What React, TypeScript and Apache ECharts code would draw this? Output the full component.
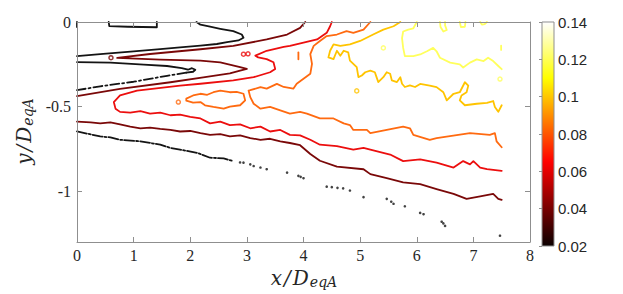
import React, { useEffect, useRef } from 'react';
import * as echarts from 'echarts';

// ---- axes / colour scale ----
const X_RANGE = [0, 8];
const Y_RANGE = [-1.3, 0];
const Y_TICKS = [0, -0.5, -1];
const CBAR_RANGE = [0.02, 0.14];

// ---- contour level 0.02 (black) ----
const BLACK_TOP = [[0.56, 0], [0.57, -0.024], [0.9, -0.028], [1.41, -0.031], [1.41, 0]];
const BLACK_EDGE = [[0, 0], [0, -0.03]];
const BLACK_UPPER = [[0, -0.202], [0.41, -0.19], [1.0, -0.174], [1.47, -0.16], [1.82, -0.15], [2.18, -0.14], [2.47, -0.13], [2.65, -0.119], [2.85, -0.109], [2.94, -0.093], [2.91, -0.074], [2.76, -0.054], [2.53, -0.04], [2.35, -0.028], [2.18, -0.016], [2.11, 0]];
const BLACK_INNER = [[0, -0.237], [0.59, -0.24], [1.18, -0.252], [1.59, -0.26], [1.85, -0.272], [1.96, -0.282], [2.03, -0.273], [2.09, -0.282], [2.05, -0.294], [1.93, -0.299]];
const BLACK_INNER_DASH = [[1.93, -0.299], [1.59, -0.318], [1.0, -0.353], [0.41, -0.38], [0, -0.403]];
const BLACK_BOTTOM = [[0, -0.647], [0.41, -0.676], [0.59, -0.682], [0.76, -0.696], [1.12, -0.705], [1.47, -0.725], [1.65, -0.744], [1.82, -0.754], [2.12, -0.773], [2.35, -0.802], [2.59, -0.806], [2.76, -0.822]];
const BLACK_DOTS = [[2.88, -0.83], [2.94, -0.831], [3.06, -0.841], [3.12, -0.851], [3.24, -0.86], [3.35, -0.87], [3.71, -0.89], [3.91, -0.909], [3.95, -0.915], [4.0, -0.923], [4.41, -0.973], [4.5, -0.976], [4.6, -0.98], [4.7, -0.983], [4.82, -0.996], [5.06, -1.035], [5.47, -1.045], [5.55, -1.062], [5.59, -1.074], [5.79, -1.089], [6.06, -1.128], [6.12, -1.136], [6.44, -1.18], [6.47, -1.19], [6.5, -1.205], [7.47, -1.263]];

// ---- contour level 0.04 (dark red) ----
const DARKRED_A = [[0, -0.438], [0.76, -0.395], [1.65, -0.356], [2.23, -0.327], [2.7, -0.304], [2.88, -0.287], [3.0, -0.277], [2.88, -0.267], [2.53, -0.238], [2.18, -0.228], [1.47, -0.222], [0.71, -0.212], [1.29, -0.189], [2.18, -0.161], [2.76, -0.141], [3.35, -0.103], [3.71, -0.074], [3.94, -0.035], [4.03, 0]];
const DARKRED_B = [[0, -0.589], [0.24, -0.593], [0.41, -0.599], [0.59, -0.593], [0.76, -0.605], [0.94, -0.618], [1.12, -0.628], [1.29, -0.624], [1.47, -0.632], [1.65, -0.638], [1.82, -0.647], [2.0, -0.644], [2.18, -0.657], [2.35, -0.667], [2.53, -0.663], [2.7, -0.676], [2.88, -0.67], [3.06, -0.686], [3.24, -0.696], [3.41, -0.69], [3.59, -0.705], [3.76, -0.715], [3.94, -0.728], [4.12, -0.78], [4.29, -0.82], [4.59, -0.855], [5.06, -0.87], [5.18, -0.899], [5.47, -0.923], [5.76, -0.948], [6.06, -0.958], [6.35, -0.987], [6.65, -1.016], [6.88, -1.045], [7.12, -1.031], [7.35, -1.016], [7.44, -1.045], [7.5, -1.051]];
const DARKRED_MARKS = [[0.6, -0.211]];

// ---- contour level 0.06 (red) ----
const RED_A = [[4.5, 0], [4.47, -0.025], [4.41, -0.064], [4.24, -0.103], [4.0, -0.122], [3.76, -0.141], [3.65, -0.147], [3.35, -0.17], [3.15, -0.199], [3.2, -0.209], [3.35, -0.219], [3.47, -0.238], [3.5, -0.277], [3.41, -0.297], [3.12, -0.326], [2.76, -0.345], [2.18, -0.365], [1.82, -0.376], [1.06, -0.405], [0.76, -0.434], [0.65, -0.473], [0.68, -0.512], [0.76, -0.531], [0.94, -0.535], [1.12, -0.527], [1.29, -0.541], [1.47, -0.535], [1.65, -0.551], [1.82, -0.547], [2.0, -0.56], [2.18, -0.57], [2.35, -0.599], [2.53, -0.589], [2.7, -0.609], [2.88, -0.605], [3.06, -0.628], [3.24, -0.618], [3.41, -0.647], [3.59, -0.638], [3.76, -0.667], [3.94, -0.67], [4.12, -0.696], [4.29, -0.725], [4.59, -0.734], [4.88, -0.754], [5.06, -0.744], [5.18, -0.754], [5.53, -0.783], [5.76, -0.822], [6.06, -0.812], [6.35, -0.831], [6.65, -0.86], [6.82, -0.822], [6.94, -0.841], [7.0, -0.822], [7.12, -0.86], [7.24, -0.87], [7.5, -0.88]];
const RED_MARKS = [[2.94, -0.19], [3.02, -0.188]];

// ---- contour level 0.08 (orange) ----
const ORANGE_A = [[5.18, 0], [5.06, -0.045], [4.88, -0.064], [4.76, -0.054], [4.59, -0.074], [4.41, -0.083], [4.29, -0.112], [4.18, -0.141], [4.12, -0.19], [4.15, -0.248], [4.12, -0.306], [4.0, -0.335], [3.88, -0.365], [3.82, -0.394], [3.65, -0.384], [3.53, -0.366], [3.35, -0.394], [3.24, -0.385], [3.06, -0.403], [3.03, -0.405], [3.06, -0.444], [3.12, -0.483], [3.24, -0.512], [3.41, -0.502], [3.59, -0.522], [3.76, -0.541], [3.94, -0.531], [4.06, -0.541], [4.29, -0.57], [4.53, -0.57], [4.71, -0.599], [4.82, -0.609], [4.88, -0.638], [5.12, -0.638], [5.18, -0.657], [5.47, -0.638], [5.76, -0.618], [5.88, -0.628], [5.94, -0.667], [6.23, -0.696], [6.35, -0.686], [6.94, -0.657], [7.29, -0.667], [7.38, -0.657], [7.41, -0.705], [7.5, -0.74]];
const ORANGE_LOOP = [[1.93, -0.453], [2.05, -0.434], [2.18, -0.424], [2.3, -0.43], [2.41, -0.415], [2.53, -0.405], [2.7, -0.415], [2.82, -0.413], [2.94, -0.424], [2.97, -0.463], [2.88, -0.492], [2.7, -0.5], [2.59, -0.512], [2.41, -0.502], [2.26, -0.492], [2.18, -0.473], [2.05, -0.477], [1.93, -0.465], [1.93, -0.453]];
const ORANGE_BAR = [[3.91, -0.18], [3.91, -0.22]];
const ORANGE_MARKS = [[1.79, -0.473]];

// ---- contour level 0.10 (orange-yellow) ----
const GOLD_A = [[5.71, 0], [5.59, -0.025], [5.41, -0.045], [5.23, -0.074], [5.0, -0.112], [4.82, -0.132], [4.65, -0.141], [4.53, -0.132], [4.47, -0.17], [4.44, -0.209], [4.53, -0.219], [4.59, -0.17], [4.65, -0.199], [4.71, -0.17], [4.79, -0.18], [4.82, -0.228], [4.94, -0.267], [4.97, -0.326], [5.03, -0.316], [5.09, -0.297], [5.18, -0.287], [5.26, -0.297], [5.29, -0.326], [5.32, -0.355], [5.41, -0.326], [5.47, -0.297], [5.53, -0.306], [5.56, -0.345], [5.65, -0.355], [5.71, -0.326], [5.74, -0.365], [5.79, -0.384], [5.88, -0.374], [5.97, -0.384], [6.06, -0.366], [6.23, -0.376], [6.35, -0.385], [6.47, -0.415], [6.53, -0.463], [6.65, -0.424], [6.76, -0.415], [6.85, -0.356], [6.91, -0.376], [6.88, -0.415], [6.79, -0.434], [6.76, -0.463], [6.85, -0.492], [7.06, -0.483], [7.24, -0.478], [7.35, -0.467], [7.38, -0.502], [7.44, -0.531], [7.5, -0.492]];
const GOLD_MARKS = [[4.94, -0.407]];

// ---- contour level 0.12 (yellow) ----
const YELLOW_A = [[6.0, 0], [5.94, -0.037], [5.85, -0.045], [5.76, -0.056], [5.74, -0.095], [5.76, -0.153], [5.79, -0.202], [5.94, -0.202], [6.06, -0.192], [6.18, -0.173], [6.29, -0.153], [6.35, -0.173], [6.41, -0.211], [6.59, -0.24], [6.76, -0.25], [6.82, -0.269], [6.94, -0.24], [7.06, -0.221], [7.18, -0.231], [7.26, -0.211], [7.35, -0.231], [7.44, -0.26], [7.5, -0.279]];
const YELLOW_L1 = [[6.41, 0], [6.42, -0.03], [6.47, -0.056], [6.53, -0.047], [6.5, -0.02], [6.5, 0]];
const YELLOW_L2 = [[6.76, 0], [6.78, -0.03], [6.85, -0.028], [6.86, 0]];
const YELLOW_L3 = [[7.12, 0], [7.15, -0.015], [7.2, -0.012], [7.24, 0]];
const YELLOW_EDGE = [[7.49, -0.14], [7.49, -0.165]];
const YELLOW_MARKS = [[5.41, -0.153], [7.47, -0.337]];

// ---- styles ----
const C02 = '#141414';
const C04 = '#7a0808';
const C06 = '#ec0e0e';
const C08 = '#ff6a10';
const C10 = '#ffc400';
const C12 = '#ffff5c';
const FRAME = '#8f8f8f';
const TEXT = '#262626';
const LW = 1.8;
const SERIF = "'Liberation Serif', 'Times New Roman', serif";

const HOT_STOPS = [
  { offset: 0, color: '#0b0000' },
  { offset: 0.375, color: '#ff0000' },
  { offset: 0.75, color: '#ffff00' },
  { offset: 1, color: '#ffffff' },
];

function lineSeries(data: number[][], color: string, dash?: number[]) {
  return {
    type: 'line',
    xAxisIndex: 0,
    yAxisIndex: 0,
    data,
    showSymbol: false,
    symbol: 'none',
    silent: true,
    z: 2,
    lineStyle: { color, width: LW, type: dash ? dash : 'solid', cap: 'round', join: 'round' },
  };
}

function markSeries(data: number[][], color: string) {
  return {
    type: 'scatter',
    xAxisIndex: 0,
    yAxisIndex: 0,
    data,
    symbol: 'circle',
    symbolSize: 4,
    silent: true,
    z: 2,
    itemStyle: { color: 'rgba(255,255,255,0)', borderColor: color, borderWidth: 1.5 },
  };
}

const nameRich = {
  m: { fontFamily: 'DejaVu Serif', fontStyle: 'italic', fontSize: 20, color: TEXT, lineHeight: 22, padding: [0, 1, 0, 1] },
  s: { fontFamily: 'DejaVu Serif', fontStyle: 'italic', fontSize: 14, color: TEXT, lineHeight: 12, verticalAlign: 'bottom' },
};

export default function App() {
  const ref = useRef<HTMLDivElement>(null);
  useEffect(() => {
    if (!ref.current) return;
    const chart = echarts.init(ref.current, null, { renderer: 'svg' });
    const option: any = {
      animation: false,
      backgroundColor: '#ffffff',
      grid: [
        { left: 77, top: 22, width: 453, height: 224 },
        { left: 542, top: 22, width: 12, height: 224 },
      ],
      xAxis: [
        {
          type: 'value', gridIndex: 0, min: X_RANGE[0], max: X_RANGE[1], interval: 1, position: 'bottom', z: 5,
          axisLine: { show: true, onZero: false, lineStyle: { color: FRAME, width: 1 } },
          axisTick: { show: true, inside: true, length: 5, lineStyle: { color: FRAME } },
          axisLabel: { fontFamily: SERIF, fontSize: 16, color: TEXT, margin: 5 },
          splitLine: { show: false },
          name: '{m|x}{m|/}{m|D}{s|eqA}', nameLocation: 'middle', nameGap: 25,
          nameTextStyle: { rich: nameRich },
        },
        {
          type: 'value', gridIndex: 0, min: X_RANGE[0], max: X_RANGE[1], interval: 1, position: 'top', z: 5,
          axisLine: { show: true, onZero: false, lineStyle: { color: FRAME, width: 1 } },
          axisTick: { show: true, inside: true, length: 5, lineStyle: { color: FRAME } },
          axisLabel: { show: false },
          splitLine: { show: false },
        },
        { type: 'value', gridIndex: 1, min: 0, max: 1, show: false },
      ],
      yAxis: [
        {
          type: 'value', gridIndex: 0, min: Y_RANGE[0], max: Y_RANGE[1], position: 'left', z: 5,
          axisLine: { show: true, onZero: false, lineStyle: { color: FRAME, width: 1 } },
          axisTick: { show: true, inside: true, length: 5, customValues: Y_TICKS, lineStyle: { color: FRAME } },
          axisLabel: { fontFamily: SERIF, fontSize: 16, color: TEXT, margin: 6, customValues: Y_TICKS },
          splitLine: { show: false },
          name: '{m|y}{m|/}{m|D}{s|eqA}', nameLocation: 'middle', nameGap: 42, nameRotate: 90,
          nameTextStyle: { rich: nameRich },
        },
        {
          type: 'value', gridIndex: 0, min: Y_RANGE[0], max: Y_RANGE[1], position: 'right', z: 5,
          axisLine: { show: true, onZero: false, lineStyle: { color: FRAME, width: 1 } },
          axisTick: { show: true, inside: true, length: 5, customValues: Y_TICKS, lineStyle: { color: FRAME } },
          axisLabel: { show: false },
          splitLine: { show: false },
        },
        {
          type: 'value', gridIndex: 1, min: CBAR_RANGE[0], max: CBAR_RANGE[1], interval: 0.02, position: 'right', z: 5,
          axisLine: { show: false },
          axisTick: { show: true, inside: true, length: 3, lineStyle: { color: FRAME } },
          axisLabel: { fontFamily: "'Liberation Sans', Arial, sans-serif", fontSize: 15, color: TEXT, margin: 4, formatter: (v: number) => v.toFixed(2).replace(/^0\.(\d)0$/, '0.$1') },
          splitLine: { show: false },
        },
      ],
      series: [
        {
          type: 'custom',
          xAxisIndex: 2,
          yAxisIndex: 2,
          silent: true,
          z: 1,
          data: [[0, CBAR_RANGE[0], CBAR_RANGE[1]]],
          renderItem: (params: any, api: any) => {
            const p0 = api.coord([0, api.value(2)]);
            const p1 = api.coord([1, api.value(1)]);
            return {
              type: 'rect',
              shape: { x: p0[0], y: p0[1], width: p1[0] - p0[0], height: p1[1] - p0[1] },
              style: {
                fill: new echarts.graphic.LinearGradient(0, 1, 0, 0, HOT_STOPS),
                stroke: FRAME,
                lineWidth: 1,
              },
            };
          },
        },
        lineSeries(BLACK_TOP, C02),
        lineSeries(BLACK_EDGE, C02),
        lineSeries(BLACK_UPPER, C02),
        lineSeries(BLACK_INNER, C02),
        lineSeries(BLACK_INNER_DASH, C02, [9, 3, 2, 3]),
        lineSeries(BLACK_BOTTOM, C02, [10, 2, 2, 2]),
        {
          type: 'scatter', xAxisIndex: 0, yAxisIndex: 0, data: BLACK_DOTS, symbol: 'circle', symbolSize: 2.6, silent: true,
          itemStyle: { color: C02 },
        },
        lineSeries(DARKRED_A, C04),
        lineSeries(DARKRED_B, C04),
        markSeries(DARKRED_MARKS, C04),
        lineSeries(RED_A, C06),
        markSeries(RED_MARKS, C06),
        lineSeries(ORANGE_A, C08),
        lineSeries(ORANGE_LOOP, C08),
        lineSeries(ORANGE_BAR, C08),
        markSeries(ORANGE_MARKS, C08),
        lineSeries(GOLD_A, C10),
        markSeries(GOLD_MARKS, C10),
        lineSeries(YELLOW_A, C12),
        lineSeries(YELLOW_L1, C12),
        lineSeries(YELLOW_L2, C12),
        lineSeries(YELLOW_L3, C12),
        lineSeries(YELLOW_EDGE, C12),
        markSeries(YELLOW_MARKS, C12),
      ],
    };
    chart.setOption(option);
    return () => chart.dispose();
  }, []);
  return <div ref={ref} style={{ position: 'absolute', left: 0, top: 0, width: 623, height: 294 }} />;
}
